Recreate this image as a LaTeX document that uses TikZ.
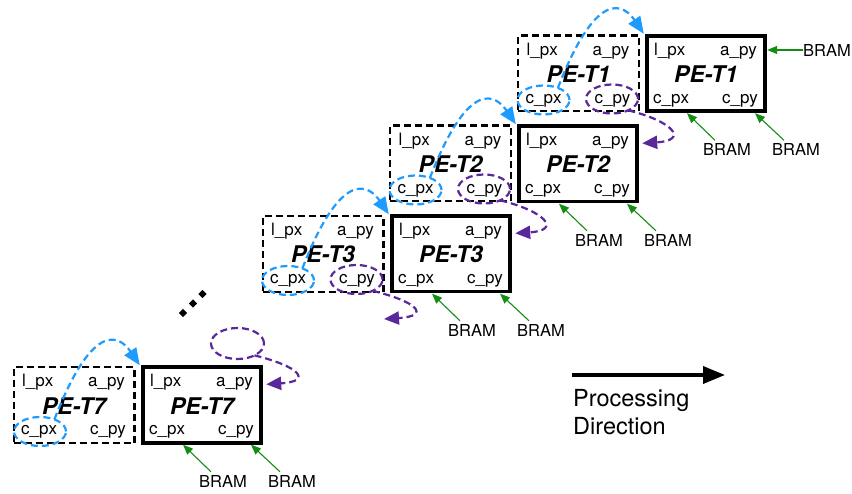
\documentclass[tikz,border=0pt]{standalone}
\usepackage{fontspec}
\setmainfont{TeX Gyre Heros}
\usetikzlibrary{arrows.meta,shapes.geometric,calc}
\definecolor{cblue}{RGB}{30,155,255}
\definecolor{cpurple}{RGB}{90,40,155}
\definecolor{cgreen}{RGB}{20,140,20}

\newcommand\peblock[5]{%
  \node[#5] (#1) at (#2,#3) {};
  \node[lbl,anchor=base west] (#1lp) at ($(#1.center)+(-52,-18)$) {l\_px};
  \node[lbl,anchor=base east] (#1ap) at ($(#1.center)+(51,-18)$) {a\_py};
  \node[pelbl,anchor=base] (#1pe) at ($(#1.center)+(0,9)$) {PE-T#4};
  \node[lbl,anchor=base west] (#1cx) at ($(#1.center)+(-53,30)$) {c\_px};
  \node[lbl,anchor=base east] (#1cy) at ($(#1.center)+(52,30)$) {c\_py};
}
\newcommand\bramin[1]{%
  \node[bramlbl] (#1ba) at ($(#1.center)+(21,76)$) {BRAM};
  \node[bramlbl] (#1bb) at ($(#1.center)+(90,76)$) {BRAM};
  \draw[garrow] ($(#1ba.north west)+(12,-3)$) -- ($(#1.south)+(-19,2)$);
  \draw[garrow] ($(#1bb.north west)+(12,-3)$) -- ($(#1.south)+(49,2)$);
}

\begin{document}
\begin{tikzpicture}[x=1pt,y=-1pt,
  solidbox/.style={draw=black,line width=3.6pt,minimum width=118.4pt,minimum height=75.4pt,inner sep=0pt,outer sep=0pt},
  dashbox/.style={draw=black,line width=2.2pt,dash pattern=on 7pt off 4pt,minimum width=120.8pt,minimum height=75.8pt,inner sep=0pt,outer sep=0pt},
  lbl/.style={font=\fontsize{17}{20}\selectfont,inner sep=0pt},
  pelbl/.style={font=\fontsize{23}{26}\selectfont\bfseries\itshape,inner sep=0pt},
  bramlbl/.style={font=\fontsize{16.5}{19}\selectfont,inner sep=0pt},
  bov/.style={ellipse,draw=cblue,line width=2.2pt,dash pattern=on 7pt off 4pt,minimum width=52pt,minimum height=29pt,inner sep=0pt,outer sep=0pt},
  pov/.style={ellipse,draw=cpurple,line width=2.2pt,dash pattern=on 7pt off 4pt,minimum width=52pt,minimum height=29pt,inner sep=0pt,outer sep=0pt},
  bcurve/.style={draw=cblue,line width=2.2pt,dash pattern=on 7pt off 4pt,-{Triangle[length=17pt,width=14pt]}},
  pcurve/.style={draw=cpurple,line width=2.2pt,dash pattern=on 7pt off 4pt,-{Triangle[length=15pt,width=13pt]}},
  garrow/.style={draw=cgreen,line width=1.1pt,-{Triangle[length=10pt,width=8pt]}},
  dotsq/.style={fill=black,rectangle,rotate=45,minimum size=6pt,inner sep=0pt}
]
\useasboundingbox (0,0) rectangle (852,494);

% stage T1
\peblock{d1}{578.5}{73.5}{1}{dashbox}
\peblock{s1}{706}{73.5}{1}{solidbox}
% stage T2
\peblock{d2}{450.5}{163.5}{2}{dashbox}
\peblock{s2}{578}{164}{2}{solidbox}
% stage T3
\peblock{d3}{323}{254}{3}{dashbox}
\peblock{s3}{451}{254}{3}{solidbox}
% stage T7
\peblock{d7}{74}{405}{7}{dashbox}
\peblock{s7}{202}{405}{7}{solidbox}

% ovals
\node[bov] (d1ox) at ($(d1.center)+(-35,26.5)$) {};
\node[pov] (d1oy) at ($(d1.center)+(33.5,25.5)$) {};
\node[bov] (d2ox) at ($(d2.center)+(-35,26.5)$) {};
\node[pov] (d2oy) at ($(d2.center)+(33.5,25.5)$) {};
\node[bov] (d3ox) at ($(d3.center)+(-35,26.5)$) {};
\node[pov] (d3oy) at ($(d3.center)+(33.5,25.5)$) {};
\node[bov] (d7ox) at ($(d7.center)+(-34,26.5)$) {};
\node[pov,minimum width=53pt,minimum height=31pt] (ph7) at (237.5,343.5) {};

% blue transfers
\draw[bcurve] (d1ox.40) .. controls +(40,-103) and +(-19,-28) .. ($(s1.north west)+(-3,-2)$);
\draw[bcurve] (d2ox.40) .. controls +(40,-103) and +(-19,-28) .. ($(s2.north west)+(-3,-2)$);
\draw[bcurve] (d3ox.40) .. controls +(40,-103) and +(-19,-28) .. ($(s3.north west)+(-3,-2)$);
\draw[bcurve] (d7ox.40) .. controls +(40,-103) and +(-19,-28) .. ($(s7.north west)+(-3,-2)$);

% purple transfers
\coordinate (t4e) at (384,319);
\draw[pcurve] (d1oy.-35) .. controls +(45,11) and +(47,-3) .. ($(s2.north east)+(5,17)$);
\draw[pcurve] (d2oy.-35) .. controls +(45,11) and +(47,-3) .. ($(s3.north east)+(5,17)$);
\draw[pcurve] (d3oy.-35) .. controls +(45,11) and +(47,-3) .. (t4e);
\draw[pcurve] (ph7.-35) .. controls +(45,11) and +(47,-3) .. ($(s7.north east)+(5,17)$);

% BRAM inputs
\bramin{s1}
\bramin{s2}
\bramin{s3}
\bramin{s7}
\node[bramlbl,anchor=west] (s1br) at (803,50) {BRAM};
\draw[garrow] (s1br.west) -- ([xshift=2pt]s1br.west -| s1.east);

% ellipsis dots
\node[dotsq] (dt1) at (183,313) {};
\node[dotsq] (dt2) at (193,303.5) {};
\node[dotsq] (dt3) at (202.5,294) {};

% processing direction
\coordinate (pd1) at (572,375);
\coordinate (pd2) at (725,375);
\draw[line width=3.5pt,-{Triangle[length=22pt,width=17pt]}] (pd1) -- (pd2);
\node[anchor=north west,inner sep=0pt,align=left,font=\fontsize{23.5}{28}\selectfont] (pdt) at (573,389) {Processing\\Direction};
\end{tikzpicture}
\end{document}
